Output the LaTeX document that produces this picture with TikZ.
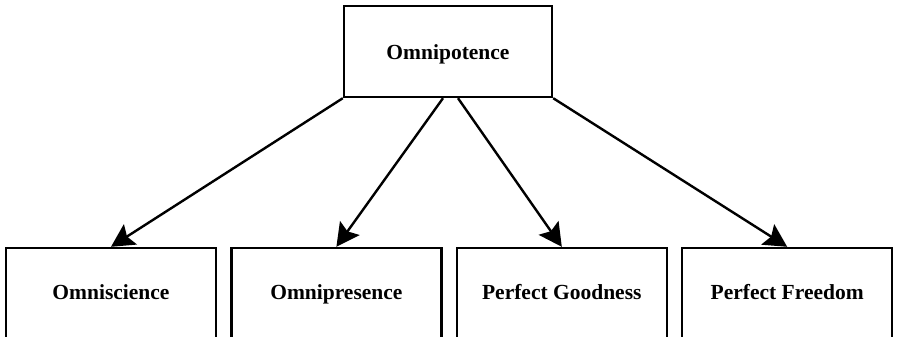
\documentclass[tikz,border=0pt]{standalone}
\usepackage{fontspec}
\setmainfont{Liberation Serif}
\usetikzlibrary{arrows.meta,positioning}
\tikzset{
  attr/.style={draw,line width=2.4pt,minimum width=210pt,minimum height=91pt,
    text height=16pt,text depth=0pt,
    font=\fontsize{21.5}{24}\selectfont\bfseries},
  sub/.style={attr,text depth=5pt},
  implies/.style={-{Stealth[length=23pt,width=24pt,inset=4pt]},line width=2.4pt}
}
\begin{document}
\begin{tikzpicture}[x=1pt,y=1pt]
  \clip (0,0) rectangle (897,-337);
  % top attribute
  \node[attr,minimum width=208pt] (omnipotence) at (448,-51.5) {Omnipotence};
  % the four below it
  \node[sub] (omniscience) at (111,-293.5) {Omniscience};
  \node[sub,right=13pt of omniscience] (omnipresence) {Omnipresence};
  \node[sub,right=13pt of omnipresence] (goodness) {Perfect Goodness};
  \node[sub,right=13pt of goodness] (freedom) {Perfect Freedom};
  \draw[implies] (omnipotence.south west) -- (omniscience.north);
  \draw[implies] ([xshift=-5pt]omnipotence.south) -- (omnipresence.north);
  \draw[implies] ([xshift=10pt]omnipotence.south) -- (goodness.north);
  \draw[implies] (omnipotence.south east) -- (freedom.north);
\end{tikzpicture}
\end{document}
